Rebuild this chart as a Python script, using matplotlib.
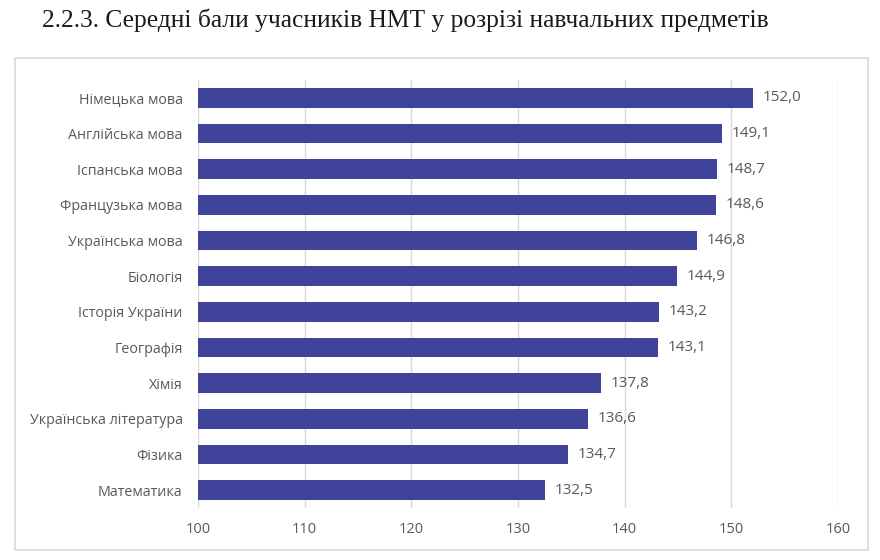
import numpy as np
import matplotlib.pyplot as plt
from matplotlib.patches import Rectangle

# data
subjects = ['Німецька мова', 'Англійська мова', 'Іспанська мова', 'Французька мова',
            'Українська мова', 'Біологія', 'Історія України', 'Географія', 'Хімія',
            'Українська література', 'Фізика', 'Математика']
scores = [152.0, 149.1, 148.7, 148.6, 146.8, 144.9, 143.2, 143.1, 137.8, 136.6, 134.7, 132.5]
xticks = [100, 110, 120, 130, 140, 150, 160]

plt.rcParams['font.family'] = ['Open Sans', 'DejaVu Sans']
fig = plt.figure(figsize=(8.8, 5.6), dpi=100)

# title
fig.text(405 / 880, 1 - 20 / 560, '2.2.3. Середні бали учасників НМТ у розрізі навчальних предметів',
         ha='center', va='center', fontsize=18.4, family='Liberation Serif', color='#1a1a1a')

# chart frame
fig.patches.append(Rectangle((15 / 880, 1 - 550 / 560), 853 / 880, 492 / 560,
                             transform=fig.transFigure, fill=False, edgecolor='#d9d9d9', lw=1.2))

ax = fig.add_axes([198 / 880, 1 - 508 / 560, 640 / 880, 428 / 560])
y = np.arange(len(subjects))
ax.barh(y, [s - 100 for s in scores], left=100, height=0.56, color='#40439a', zorder=3)
for yi, s in zip(y, scores):
    ax.text(s + 0.9, yi, f'{s:.1f}'.replace('.', ','), va='center', ha='left',
            fontsize=11, color='#595959')

ax.set_xlim(100, 160)
ax.set_ylim(len(subjects) - 0.5, -0.5)
ax.set_xticks(xticks)
ax.set_yticks(y)
ax.set_yticklabels(subjects, fontsize=10.3)
ax.tick_params(axis='both', length=0, colors='#595959')
ax.tick_params(axis='x', labelsize=10.5, pad=10)
ax.tick_params(axis='y', pad=11)
ax.grid(axis='x', color='#d9d9d9', lw=1, zorder=0)
for sp in ax.spines.values():
    sp.set_visible(False)

fig.savefig('out.png', dpi=100)
